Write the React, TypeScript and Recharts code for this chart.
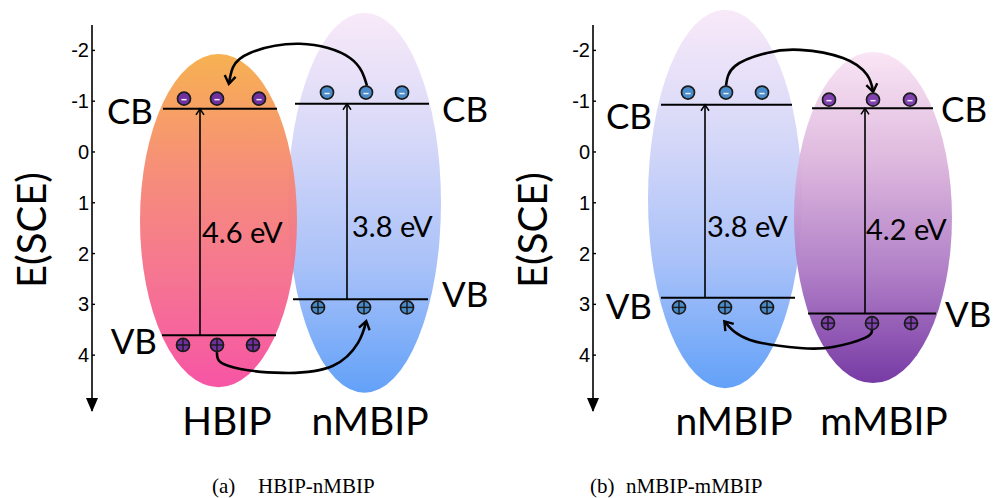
import React from "react";
import { ComposedChart, XAxis, YAxis, Line, Scatter, ReferenceArea, ReferenceLine, ReferenceDot } from "recharts";

const energyTicks = [-2, -1, 0, 1, 2, 3, 4];
const yDomain = [-2.5, 5.1];
const xDomain = [0, 400];

// (a) HBIP-nMBIP
const aNames = ["HBIP", "nMBIP"];
const aNameX = [135, 278];
const hbipCB = -0.85;
const hbipVB = 3.61;
const hbipElectronX = [92, 125, 167];
const hbipHoleX = [91, 125, 161];
const aNmbipCB = -0.95;
const aNmbipVB = 2.9;
const aNmbipElectronX = [235, 274, 310];
const aNmbipHoleX = [226, 272, 315];
const aTopTransferX = [275, 258, 208, 158, 141, 137];
const aTopTransferY = [-1.3, -1.85, -2.13, -1.95, -1.67, -1.36];
const aBottomTransferX = [125, 136, 191, 241, 266, 274];
const aBottomTransferY = [3.94, 4.21, 4.35, 4.21, 3.76, 3.35];
const aTags = ["CB", "VB", "CB", "VB"];
const aTagX = [61, 65, 350, 350];
const aTagY = [-0.83, 3.7, -0.87, 2.78];

// (b) nMBIP-mMBIP
const bNames = ["nMBIP", "mMBIP"];
const bNameX = [141, 291];
const bNmbipCB = -0.93;
const bNmbipVB = 2.87;
const bNmbipElectronX = [95, 133, 169];
const bNmbipHoleX = [86, 132, 174];
const mmbipCB = -0.86;
const mmbipVB = 3.18;
const mmbipElectronX = [236, 280, 317];
const mmbipHoleX = [235, 279, 318];
const bTopTransferX = [133, 142, 174, 207, 250, 274, 280];
const bTopTransferY = [-1.3, -1.69, -1.95, -2.01, -1.85, -1.52, -1.2];
const bBottomTransferX = [279, 272, 240, 207, 157, 132];
const bBottomTransferY = [3.5, 3.66, 3.84, 3.86, 3.7, 3.35];
const bTags = ["CB", "VB", "CB", "VB"];
const bTagX = [59, 59, 348, 352];
const bTagY = [-0.73, 3.01, -0.87, 3.17];

const PURPLE = "#7030a0";
const BLUE = "#4a8ccb";
const orangePink = ["#f6ad48", "#f68a70", "#f56e8c", "#f64ca0"];
const lavenderBlue = ["#f8e8f8", "#d4d6f8", "#a4bef8", "#5a9cf8"];
const pinkPurple = ["#f9e4f4", "#dcb4dc", "#ac78c4", "#7030a0"];

type Band = {
  cb: number; vb: number;
  cbSpan: number[]; vbSpan: number[];
  eX: number[]; eY: number; hX: number[]; hY: number;
  gapX: number; gap: string; gapPos: number[];
  ellipseX: number[]; ellipseY: number[];
  stops: string[]; dot: string;
};

const bandsA: Band[] = [
  { cb: aNmbipCB, vb: aNmbipVB, cbSpan: [203, 337], vbSpan: [201, 336], eX: aNmbipElectronX, eY: -1.17, hX: aNmbipHoleX, hY: 3.06,
    gapX: 255, gap: "3.8 eV", gapPos: [260, 1.44], ellipseX: [196, 349], ellipseY: [-2.74, 4.74], stops: lavenderBlue, dot: BLUE },
  { cb: hbipCB, vb: hbipVB, cbSpan: [71, 185], vbSpan: [70, 184], eX: hbipElectronX, eY: -1.05, hX: hbipHoleX, hY: 3.8,
    gapX: 108, gap: "4.6 eV", gapPos: [110, 1.57], ellipseX: [48, 205], ellipseY: [-1.93, 4.63], stops: orangePink, dot: PURPLE },
];

const bandsB: Band[] = [
  { cb: bNmbipCB, vb: bNmbipVB, cbSpan: [68, 199], vbSpan: [68, 202], eX: bNmbipElectronX, eY: -1.17, hX: bNmbipHoleX, hY: 3.06,
    gapX: 112, gap: "3.8 eV", gapPos: [114, 1.44], ellipseX: [55, 209], ellipseY: [-2.8, 4.65], stops: lavenderBlue, dot: BLUE },
  { cb: mmbipCB, vb: mmbipVB, cbSpan: [219, 340], vbSpan: [215, 343], eX: mmbipElectronX, eY: -1.03, hX: mmbipHoleX, hY: 3.37,
    gapX: 272, gap: "4.2 eV", gapPos: [273, 1.5], ellipseX: [201, 359], ellipseY: [-1.97, 4.55], stops: pinkPurple, dot: "#8040b0" },
];

const SANS = "Lato, 'Open Sans', sans-serif";

const particle = (fill: string, sign: string) => (p: any) => {
  const r = 6.5;
  const { cx, cy } = p;
  return (
    <g>
      <circle cx={cx} cy={cy} r={r} fill={fill} stroke="#1b1b1b" strokeWidth={1.7} />
      {sign === "-" ? (
        <line x1={cx - 2.6} x2={cx + 2.6} y1={cy + 1} y2={cy + 1} stroke="#eeeef4" strokeWidth={1.5} />
      ) : (
        <g stroke="#1b1b1b" strokeWidth={1.4}>
          <line x1={cx - r} x2={cx + r} y1={cy} y2={cy} />
          <line x1={cx} x2={cx} y1={cy - r} y2={cy + r} />
        </g>
      )}
    </g>
  );
};

const textDot = (key: string, x: number, y: number, value: string, size: number, anchor: string) => (
  <ReferenceDot
    key={key}
    x={x}
    y={y}
    r={0}
    ifOverflow="visible"
    shape={(p: any) => (
      <text x={p.cx} y={p.cy} textAnchor={anchor} dominantBaseline="central" fontSize={size} fontFamily={SANS} fill="#000">
        {value}
      </text>
    )}
  />
);

type PanelProps = {
  pid: string; width: number; right: number; bands: Band[];
  names: string[]; nameX: number[];
  topX: number[]; topY: number[]; botX: number[]; botY: number[];
  tags: string[]; tagX: number[]; tagY: number[];
};

const Panel = ({ pid, width, right, bands, names, nameX, topX, topY, botX, botY, tags, tagX, tagY }: PanelProps) => {
  const top = topX.map((x, i) => ({ x, y: topY[i] }));
  const bot = botX.map((x, i) => ({ x, y: botY[i] }));
  return (
    <ComposedChart width={width} height={470} margin={{ top: 25, right, left: 0, bottom: 0 }}>
      <defs>
        {bands.map((b, i) => (
          <linearGradient key={i} id={`${pid}-g${i}`} x1="0" y1="0" x2="0" y2="1">
            {b.stops.map((c, j) => (
              <stop key={j} offset={j / (b.stops.length - 1)} stopColor={c} />
            ))}
          </linearGradient>
        ))}
        <marker id={`${pid}-head`} markerWidth="14" markerHeight="14" refX="9" refY="7" orient="auto" markerUnits="userSpaceOnUse">
          <path d="M2,1.5 L10,7 L2,12.5" fill="none" stroke="#000" strokeWidth="2.4" />
        </marker>
        <marker id={`${pid}-tip`} markerWidth="10" markerHeight="10" refX="6" refY="5" orient="auto" markerUnits="userSpaceOnUse">
          <path d="M1,1 L7,5 L1,9" fill="none" stroke="#000" strokeWidth="1.5" />
        </marker>
      </defs>
      <XAxis
        type="number"
        dataKey="x"
        domain={xDomain}
        allowDataOverflow
        ticks={nameX}
        height={59}
        axisLine={false}
        tickLine={false}
        tickSize={0}
        tickMargin={9}
        interval={0}
        tick={(p: any) => (
          <text x={p.x} y={p.y} textAnchor="middle" dominantBaseline="central" fontSize={39} fontFamily={SANS} fill="#000">
            {names[nameX.indexOf(p.payload.value)]}
          </text>
        )}
      />
      <YAxis
        type="number"
        domain={yDomain}
        reversed
        allowDataOverflow
        ticks={energyTicks}
        width={92}
        axisLine={{ stroke: "#000", strokeWidth: 1.6 }}
        tickLine={{ stroke: "#000", strokeWidth: 1.4 }}
        tickSize={-3}
        tickMargin={6}
        tick={{ fill: "#000", fontSize: 20, fontFamily: "'Liberation Sans', Arial, sans-serif" }}
        label={{
          value: "E(SCE)",
          content: (p: any) => {
            const vb = p.viewBox;
            const cx = vb.x + 31;
            const cy = vb.y + vb.height / 2 + 12;
            return (
              <text x={cx} y={cy} transform={`rotate(-90 ${cx} ${cy})`} textAnchor="middle" dominantBaseline="central" fontSize={40} fontFamily={SANS} fill="#000">
                E(SCE)
              </text>
            );
          },
        }}
      />
      <ReferenceDot
        x={0}
        y={yDomain[1]}
        r={0}
        ifOverflow="visible"
        shape={(p: any) => <path d={`M${p.cx - 6},${p.cy - 13} L${p.cx + 6},${p.cy - 13} L${p.cx},${p.cy + 1} Z`} fill="#000" />}
      />
      {bands.map((b, i) => (
        <ReferenceArea
          key={`el${i}`}
          x1={b.ellipseX[0]}
          x2={b.ellipseX[1]}
          y1={b.ellipseY[0]}
          y2={b.ellipseY[1]}
          ifOverflow="visible"
          shape={(p: any) => (
            <ellipse cx={p.x + p.width / 2} cy={p.y + p.height / 2} rx={p.width / 2} ry={p.height / 2} fill={`url(#${pid}-g${i})`} fillOpacity={0.95} />
          )}
        />
      ))}
      {bands.map((b, i) => (
        <ReferenceLine key={`cb${i}`} segment={[{ x: b.cbSpan[0], y: b.cb }, { x: b.cbSpan[1], y: b.cb }]} stroke="#000" strokeWidth={2} ifOverflow="visible" />
      ))}
      {bands.map((b, i) => (
        <ReferenceLine key={`vb${i}`} segment={[{ x: b.vbSpan[0], y: b.vb }, { x: b.vbSpan[1], y: b.vb }]} stroke="#000" strokeWidth={2} ifOverflow="visible" />
      ))}
      {bands.map((b, i) => (
        <Line
          key={`gap${i}`}
          data={[{ x: b.gapX, y: b.vb }, { x: b.gapX, y: b.cb + 0.02 }]}
          dataKey="y"
          type="linear"
          stroke="#000"
          strokeWidth={1.6}
          dot={false}
          activeDot={false}
          markerEnd={`url(#${pid}-tip)`}
          isAnimationActive={false}
        />
      ))}
      {bands.map((b, i) => (
        <Scatter key={`e${i}`} data={b.eX.map((x) => ({ x, y: b.eY }))} dataKey="y" shape={particle(b.dot, "-")} isAnimationActive={false} />
      ))}
      {bands.map((b, i) => (
        <Scatter key={`h${i}`} data={b.hX.map((x) => ({ x, y: b.hY }))} dataKey="y" shape={particle(b.dot, "+")} isAnimationActive={false} />
      ))}
      <Line data={top} dataKey="y" type="natural" stroke="#000" strokeWidth={2.6} dot={false} activeDot={false} markerEnd={`url(#${pid}-head)`} isAnimationActive={false} />
      <Line data={bot} dataKey="y" type="natural" stroke="#000" strokeWidth={2.6} dot={false} activeDot={false} markerEnd={`url(#${pid}-head)`} isAnimationActive={false} />
      {bands.map((b, i) => textDot(`gl${i}`, b.gapPos[0], b.gapPos[1], b.gap, 29, "start"))}
      {tags.map((t, i) => textDot(`t${i}`, tagX[i], tagY[i], t, 35, i < 2 ? "end" : "start"))}
    </ComposedChart>
  );
};

const captionStyle: React.CSSProperties = {
  position: "absolute",
  top: 475,
  fontFamily: "'Liberation Serif', 'Times New Roman', serif",
  fontSize: 21,
  lineHeight: "22px",
  whiteSpace: "pre",
  color: "#000",
};

export default function App() {
  return (
    <div style={{ position: "absolute", left: 0, top: 0, width: 993, height: 498, background: "#fff" }}>
      <div style={{ position: "absolute", left: 0, top: 0 }}>
        <Panel pid="pa" width={500} right={8} bands={bandsA} names={aNames} nameX={aNameX}
          topX={aTopTransferX} topY={aTopTransferY} botX={aBottomTransferX} botY={aBottomTransferY}
          tags={aTags} tagX={aTagX} tagY={aTagY} />
      </div>
      <div style={{ position: "absolute", left: 501, top: 0 }}>
        <Panel pid="pb" width={492} right={0} bands={bandsB} names={bNames} nameX={bNameX}
          topX={bTopTransferX} topY={bTopTransferY} botX={bBottomTransferX} botY={bBottomTransferY}
          tags={bTags} tagX={bTagX} tagY={bTagY} />
      </div>
      <span style={{ ...captionStyle, left: 212 }}>(a)</span>
      <span style={{ ...captionStyle, left: 258 }}>HBIP-nMBIP</span>
      <span style={{ ...captionStyle, left: 590 }}>(b)</span>
      <span style={{ ...captionStyle, left: 626 }}>nMBIP-mMBIP</span>
    </div>
  );
}
